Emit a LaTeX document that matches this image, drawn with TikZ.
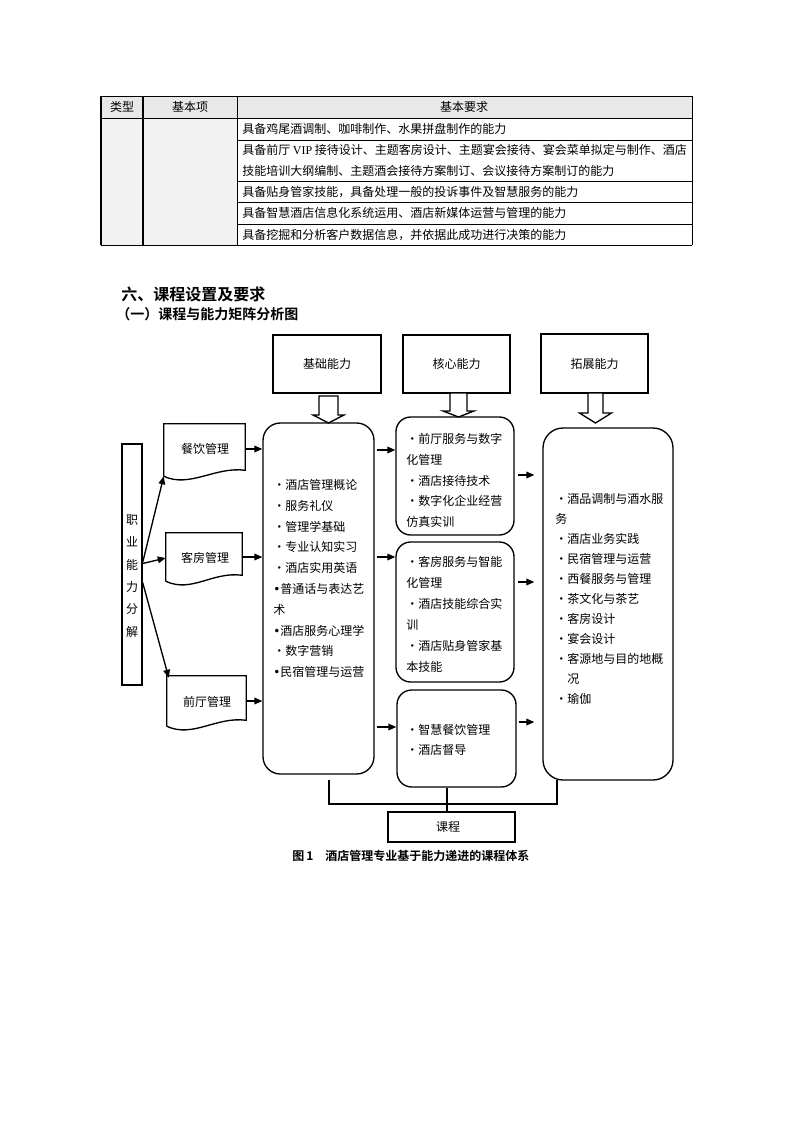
\documentclass[tikz,border=0pt]{standalone}
\usepackage{fontspec}
\setmainfont{Noto Sans CJK SC}[BoldFont={Noto Sans CJK SC Bold}]
\newfontfamily\bulletfont{DejaVu Sans}
\newfontfamily\latinserif{Liberation Serif}
\usetikzlibrary{calc,arrows.meta,fit}
\definecolor{hdrgray}{HTML}{E8E8E8}
\definecolor{cellgray}{HTML}{F2F2F2}
\newcommand\dtext{\fontsize{9pt}{11pt}\selectfont}
\newcommand\hollowarrow[6]{\draw[hollow] ({#1-#5},#2) -- ({#1-#5},#3) -- ({#1-#6},#3) -- (#1,#4) -- ({#1+#6},#3) -- ({#1+#5},#3) -- ({#1+#5},#2) -- cycle;}
\newcommand\docshape[1]{\draw[dline] (#1.south west) -- (#1.north west) -- (#1.north east) -- ($(#1.south east)+(0,-6)$) .. controls ($(#1.south east)+(-30,-10)$) and ($(#1.south west)+(26,12)$) .. (#1.south west);}
\begin{document}
\begin{tikzpicture}[x=0.75pt,y=-0.75pt,
  tline/.style={line width=0.5pt},
  tthick/.style={line width=1pt},
  dline/.style={line width=1pt},
  box/.style={draw,line width=1pt,inner sep=0pt,font=\dtext},
  rbox/.style={box,rounded corners=#1},
  arr/.style={line width=1pt,-{Triangle[length=6pt,width=5pt]}},
  hollow/.style={draw,line width=1pt,fill=white},
  ttext/.style={inner sep=0pt,font=\fontsize{9pt}{15.75pt}\selectfont},
  listtxt/.style={inner sep=0pt,align=left,anchor=west},
]
\useasboundingbox (0,0) rectangle (793,1122);
\fill[white] (0,0) rectangle (793,1122);

% ---------- table ----------
\fill[hdrgray] (101,96) rectangle (692,118);
\fill[cellgray] (101,118) rectangle (237,245);
\draw[tline] (101,96) -- (692,96) (101,118) -- (692,118) (101,245) -- (692,245)
  (692,96) -- (692,245) (237,96) -- (237,245);
\draw[tline] (237,140) -- (692,140) (237,181) -- (692,181) (237,202) -- (692,202) (237,224) -- (692,224);
\draw[tthick] (101,96) -- (101,245) (143,96) -- (143,245);
\node[ttext] (th1) at (122,107) {类型};
\node[ttext] (th2) at (190,107) {基本项};
\node[ttext] (th3) at (464,107) {基本要求};
\node[ttext,anchor=west] (tr1) at (242,129) {具备鸡尾酒调制、咖啡制作、水果拼盘制作的能力};
\node[ttext,anchor=west,align=left] (tr2) at (242,160.5) {具备前厅 {\latinserif VIP} 接待设计、主题客房设计、主题宴会接待、宴会菜单拟定与制作、酒店\\技能培训大纲编制、主题酒会接待方案制订、会议接待方案制订的能力};
\node[ttext,anchor=west] (tr3) at (242,192) {具备贴身管家技能，具备处理一般的投诉事件及智慧服务的能力};
\node[ttext,anchor=west] (tr4) at (242,213) {具备智慧酒店信息化系统运用、酒店新媒体运营与管理的能力};
\node[ttext,anchor=west] (tr5) at (242,235) {具备挖掘和分析客户数据信息，并依据此成功进行决策的能力};

% ---------- headings ----------
\node[anchor=west,inner sep=0pt,font=\bfseries\fontsize{12pt}{14pt}\selectfont] (h1) at (121,294.5) {六、课程设置及要求};
\node[anchor=west,inner sep=0pt,font=\bfseries\fontsize{10.5pt}{13pt}\selectfont] (h2) at (116,314.5) {（一）课程与能力矩阵分析图};

% ---------- top boxes ----------
\node[box,fit={(273,335) (381,393)}] (jc) {};
\node[inner sep=0pt,font=\dtext] (jcl) at (jc.center) {基础能力};
\node[box,fit={(403,335) (510,393)}] (hx) {};
\node[inner sep=0pt,font=\dtext] (hxl) at (hx.center) {核心能力};
\node[box,fit={(541,334) (648,393)}] (tz) {};
\node[inner sep=0pt,font=\dtext] (tzl) at (tz.center) {拓展能力};

\hollowarrow{328.5}{396}{415}{423}{9.5}{15.5}
\hollowarrow{458.5}{393}{411}{417}{8.5}{15.5}
\hollowarrow{595.5}{393}{413}{423}{7.5}{16}

% ---------- left column ----------
\node[box,fit={(122,444) (142,685)}] (zy) {};
\node[inner sep=0pt,align=center,font=\fontsize{9pt}{16.8pt}\selectfont] (zyl) at (132,576) {职\\业\\能\\力\\分\\解};

\node[inner sep=0pt,fit={(164,424) (245,476)},font=\dtext] (cy) {};
\node[inner sep=0pt,font=\dtext] (cyl) at (205,449) {餐饮管理};
\docshape{cy}
\node[inner sep=0pt,fit={(166,533) (242,581)},font=\dtext] (kf) {};
\node[inner sep=0pt,font=\dtext] (kfl) at (205,558) {客房管理};
\docshape{kf}
\node[inner sep=0pt,fit={(167,676) (246,726)},font=\dtext] (qt) {};
\node[inner sep=0pt,font=\dtext] (qtl) at (207,702) {前厅管理};
\docshape{qt}

% ---------- main boxes ----------
\node[rbox=13pt,fit={(263,423) (374,774)}] (jb) {};
\node[listtxt,font=\fontsize{9pt}{15.6pt}\selectfont] (jbt) at (273,578.5) {・酒店管理概论\\・服务礼仪\\・管理学基础\\・专业认知实习\\・酒店实用英语\\{\bulletfont •}普通话与表达艺\\术\\{\bulletfont •}酒店服务心理学\\・数字营销\\{\bulletfont •}民宿管理与运营};

\node[rbox=11pt,fit={(396,417) (514,535)}] (c1) {};
\node[listtxt,font=\fontsize{9pt}{15.56pt}\selectfont] (c1t) at (406,480.5) {・前厅服务与数字\\化管理\\・酒店接待技术\\・数字化企业经营\\仿真实训};
\node[rbox=11pt,fit={(396,542) (514,682)}] (c2) {};
\node[listtxt,font=\fontsize{9pt}{15.75pt}\selectfont] (c2t) at (406,614.5) {・客房服务与智能\\化管理\\・酒店技能综合实\\训\\・酒店贴身管家基\\本技能};
\node[rbox=11pt,fit={(397,690) (516,787)}] (c3) {};
\node[listtxt,font=\fontsize{9pt}{15pt}\selectfont] (c3t) at (406,740) {・智慧餐饮管理\\・酒店督导};

\node[rbox=15pt,fit={(543,428) (673,780)}] (tb) {};
\node[listtxt,font=\fontsize{9pt}{15pt}\selectfont] (tbt) at (555,599) {・酒品调制与酒水服\\务\\・酒店业务实践\\・民宿管理与运营\\・西餐服务与管理\\・茶文化与茶艺\\・客房设计\\・宴会设计\\・客源地与目的地概\\　况\\・瑜伽};

\node[box,fit={(388,812) (515,842)}] (kc) {};
\node[inner sep=0pt,font=\dtext] (kcl) at (448,827) {课程};

% ---------- connectors ----------
\draw[arr] ($(zy.east)+(0,-2)$) -- (cy.south west);
\draw[arr] ($(zy.east)+(0,-1)$) -- (kf.west |- 0,558);
\draw[arr] ($(zy.east)+(0,18)$) -- ($(qt.north west)+(2,2)$);

\draw[arr] (cy.east |- 0,449) -- (jb.west |- 0,449);
\draw[arr] (kf.east |- 0,557) -- (jb.west |- 0,557);
\draw[arr] (qt.east |- 0,701) -- (jb.west |- 0,701);

\draw[arr] ($(jb.east |- 0,450)+(2,0)$) -- (c1.west |- 0,450);
\draw[arr] ($(jb.east |- 0,557)+(2,0)$) -- (c2.west |- 0,557);
\draw[arr] ($(jb.east |- 0,727)+(2,0)$) -- (c3.west |- 0,727);

\draw[arr] ($(c1.east |- 0,475)+(3,0)$) -- ($(tb.west |- 0,475)+(-8,0)$);
\draw[arr] ($(c2.east |- 0,582)+(3,0)$) -- ($(tb.west |- 0,582)+(-8,0)$);
\draw[arr] ($(c3.east |- 0,722)+(2,0)$) -- ($(tb.west |- 0,722)+(-8,0)$);

\coordinate (bl) at (329,804);
\coordinate (br) at (557,804);
\draw[dline] ($(jb.south -| bl)+(0,5)$) -- (bl) -- (br) -- ($(tb.south -| br)+(0,-1)$);
\draw[dline] (c3.south -| 447,0) -- (kc.north -| 447,0);

% ---------- caption ----------
\node[anchor=west,inner sep=0pt,font=\bfseries\fontsize{9pt}{11pt}\selectfont] (cap) at (292,856) {图\,1\hspace{9pt}酒店管理专业基于能力递进的课程体系};
\end{tikzpicture}
\end{document}
